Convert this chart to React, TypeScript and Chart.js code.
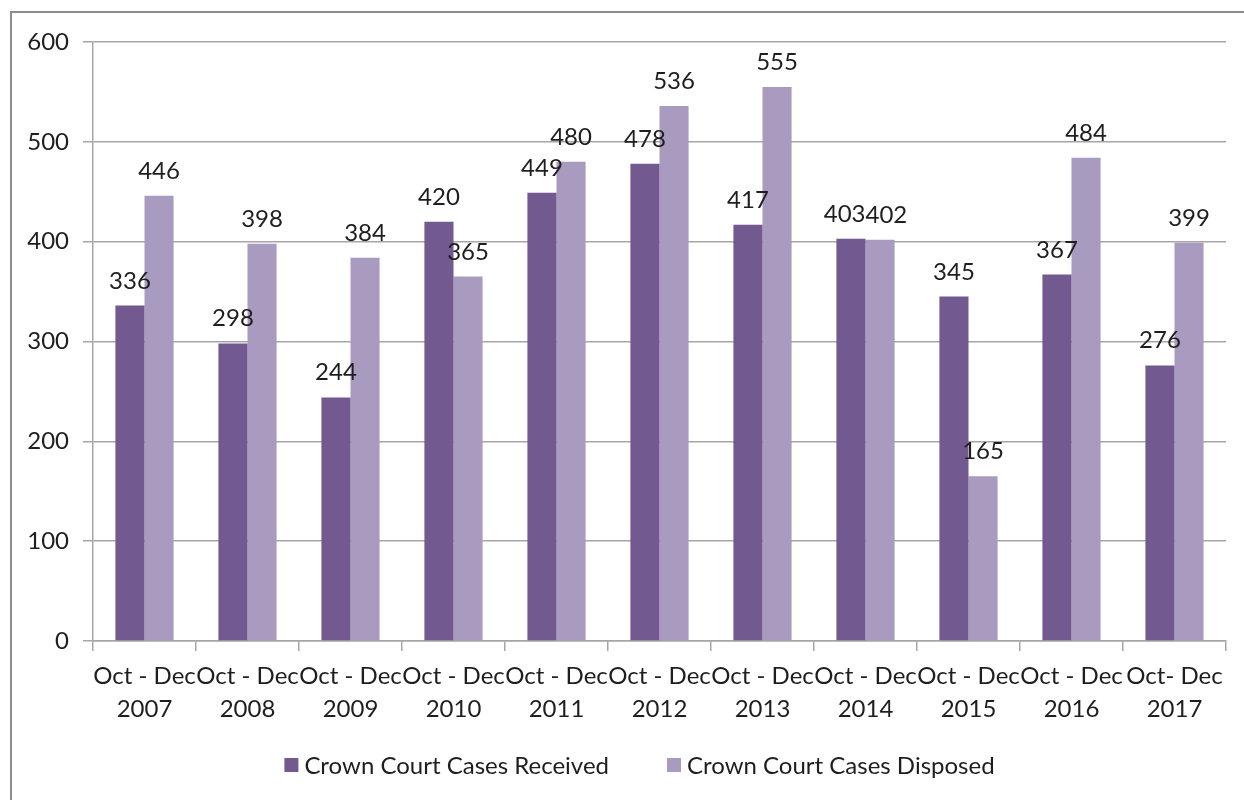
import React, { useEffect, useRef } from "react";
import { Chart, registerables } from "chart.js";

Chart.register(...registerables);

const categories: string[][] = [
  ["Oct - Dec", "2007"],
  ["Oct - Dec", "2008"],
  ["Oct - Dec", "2009"],
  ["Oct - Dec", "2010"],
  ["Oct - Dec", "2011"],
  ["Oct - Dec", "2012"],
  ["Oct - Dec", "2013"],
  ["Oct - Dec", "2014"],
  ["Oct - Dec", "2015"],
  ["Oct - Dec", "2016"],
  ["Oct- Dec", "2017"],
];
const received: number[] = [336, 298, 244, 420, 449, 478, 417, 403, 345, 367, 276];
const disposed: number[] = [446, 398, 384, 365, 480, 536, 555, 402, 165, 484, 399];
const seriesNames: string[] = ["Crown Court Cases Received", "Crown Court Cases Disposed"];
const seriesColors: string[] = ["#72598f", "#a99bc0"];
const yTicks: number[] = [0, 100, 200, 300, 400, 500, 600];

const FONT = "Lato, 'Noto Sans', sans-serif";
const TEXT = "#1e1e1e";
const GRID = "#a6a6a6";

const labelPlugin = {
  id: "valueLabels",
  afterDatasetsDraw(chart: any) {
    const ctx = chart.ctx;
    ctx.save();
    ctx.font = `24px ${FONT}`;
    ctx.fillStyle = TEXT;
    ctx.textAlign = "center";
    ctx.textBaseline = "alphabetic";
    const m0 = chart.getDatasetMeta(0);
    const m1 = chart.getDatasetMeta(1);
    const d0 = chart.data.datasets[0].data;
    const d1 = chart.data.datasets[1].data;
    m0.data.forEach((el0: any, j: number) => {
      const el1 = m1.data[j];
      const t0 = String(d0[j]);
      const t1 = String(d1[j]);
      let x0 = el0.x;
      let x1 = el1.x;
      const y0 = el0.y - 17;
      const y1 = el1.y - 17;
      const w0 = ctx.measureText(t0).width;
      const w1 = ctx.measureText(t1).width;
      if (Math.abs(y0 - y1) < 22) {
        const overlap = x0 + w0 / 2 - (x1 - w1 / 2);
        if (overlap > 0) {
          x0 -= overlap / 2;
          x1 += overlap / 2;
        }
      }
      ctx.fillText(t0, x0, y0);
      ctx.fillText(t1, x1, y1);
    });
    ctx.restore();
  },
};

const legendPlugin = {
  id: "customLegend",
  afterDraw(chart: any) {
    const ctx = chart.ctx;
    const area = chart.chartArea;
    ctx.save();
    ctx.font = `24px ${FONT}`;
    ctx.textBaseline = "middle";
    ctx.textAlign = "left";
    const box = 14;
    const boxGap = 6;
    const itemGap = 58;
    const widths = seriesNames.map((n) => ctx.measureText(n).width);
    const total =
      widths.reduce((a, w) => a + box + boxGap + w, 0) + itemGap * (seriesNames.length - 1);
    const cx = (area.left + area.right) / 2 - 20;
    const cy = area.bottom + 124;
    let x = cx - total / 2;
    seriesNames.forEach((n, i) => {
      ctx.fillStyle = seriesColors[i];
      ctx.fillRect(x, cy - box / 2, box, box);
      ctx.fillStyle = TEXT;
      ctx.fillText(n, x + box + boxGap, cy + 1);
      x += box + boxGap + widths[i] + itemGap;
    });
    ctx.restore();
  },
};

export default function App() {
  const ref = useRef<HTMLCanvasElement | null>(null);
  useEffect(() => {
    if (!ref.current) return;
    const chart = new Chart(ref.current, {
      type: "bar",
      data: {
        labels: categories,
        datasets: [
          {
            label: seriesNames[0],
            data: received,
            backgroundColor: seriesColors[0],
            categoryPercentage: 0.565,
            barPercentage: 1,
          },
          {
            label: seriesNames[1],
            data: disposed,
            backgroundColor: seriesColors[1],
            categoryPercentage: 0.565,
            barPercentage: 1,
          },
        ],
      },
      options: {
        responsive: false,
        animation: false,
        layout: { padding: { left: 0, right: 18, top: 42, bottom: 65 } },
        scales: {
          x: {
            grid: {
              drawOnChartArea: false,
              drawTicks: true,
              tickLength: 10,
              color: GRID,
              lineWidth: 1.5,
            },
            border: { color: GRID, width: 1.5 },
            ticks: {
              color: TEXT,
              font: { family: FONT, size: 24, lineHeight: 1.375 },
              maxRotation: 0,
              autoSkip: false,
              padding: 9,
            },
          },
          y: {
            min: 0,
            max: 600,
            afterBuildTicks: (scale: any) => {
              scale.ticks = yTicks.map((v) => ({ value: v }));
            },
            afterFit: (scale: any) => {
              scale.width = 93;
            },
            grid: { color: GRID, tickLength: 10, lineWidth: 1.5 },
            border: { color: GRID, width: 1.5 },
            ticks: {
              color: TEXT,
              font: { family: FONT, size: 24 },
              padding: 14,
            },
          },
        },
        plugins: {
          legend: { display: false },
          tooltip: { enabled: false },
        },
      },
      plugins: [labelPlugin, legendPlugin],
    });
    return () => chart.destroy();
  }, []);

  return (
    <div
      style={{
        position: "fixed",
        left: 0,
        top: 0,
        width: 1244,
        height: 800,
        background: "#ffffff",
        overflow: "hidden",
      }}
    >
      <div
        style={{
          position: "absolute",
          left: 10,
          top: 11,
          width: 1400,
          height: 1000,
          borderLeft: "2px solid #8c8c8c",
          borderTop: "2px solid #8c8c8c",
        }}
      />
      <canvas
        ref={ref}
        width={1244}
        height={800}
        style={{ position: "absolute", left: 0, top: 0 }}
      />
    </div>
  );
}
